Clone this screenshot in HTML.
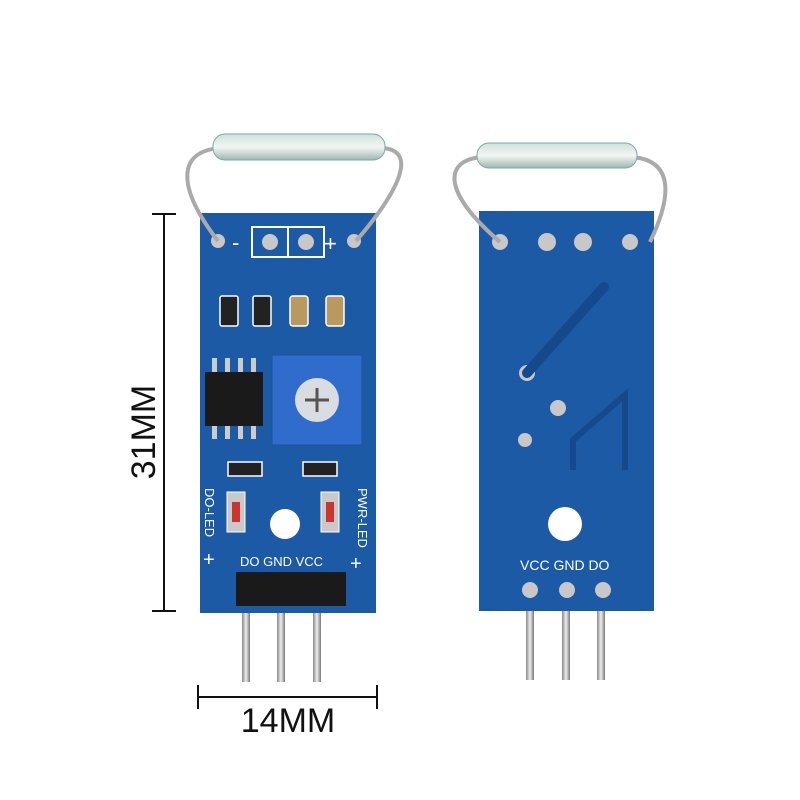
<!DOCTYPE html>
<html><head><style>body{margin:0;background:#fff}svg{display:block}</style></head><body>
<svg width="800" height="800" viewBox="0 0 800 800" xmlns="http://www.w3.org/2000/svg" font-family="Liberation Sans, sans-serif">
<defs>
<linearGradient id="g" x1="0" y1="0" x2="0" y2="1"><stop offset="0" stop-color="#cfe0da"/><stop offset=".5" stop-color="#f2f6f4"/><stop offset="1" stop-color="#9fb8b0"/></linearGradient>
<linearGradient id="pin" x1="0" x2="1"><stop offset="0" stop-color="#888"/><stop offset=".5" stop-color="#eee"/><stop offset="1" stop-color="#777"/></linearGradient>
</defs>
<g stroke="#111" stroke-width="2">
<line x1="164" y1="214" x2="164" y2="611"/><line x1="152" y1="214" x2="176" y2="214"/><line x1="152" y1="611" x2="176" y2="611"/>
<line x1="198" y1="697" x2="377" y2="697"/><line x1="198" y1="685" x2="198" y2="709"/><line x1="377" y1="685" x2="377" y2="709"/>
</g>
<text x="0" y="0" font-size="34" fill="#111" text-anchor="middle" transform="translate(155,432) rotate(-90)">31MM</text>
<text x="288" y="732" font-size="34" fill="#111" text-anchor="middle">14MM</text>

<rect x="242" y="600" width="8" height="82" fill="url(#pin)"/><rect x="277" y="600" width="8" height="82" fill="url(#pin)"/><rect x="313" y="600" width="8" height="82" fill="url(#pin)"/>
<rect x="526" y="600" width="8" height="80" fill="url(#pin)"/><rect x="562" y="600" width="8" height="80" fill="url(#pin)"/><rect x="597" y="600" width="8" height="80" fill="url(#pin)"/>

<rect x="200" y="213" width="176" height="400" fill="#1d5aa6"/>
<g fill="none" stroke="#fff" stroke-width="2"><rect x="252" y="227" width="36" height="30"/><rect x="288" y="227" width="36" height="30"/></g>
<g fill="#c8c8c8"><circle cx="218" cy="241" r="7"/><circle cx="270" cy="242" r="8"/><circle cx="306" cy="242" r="8"/><circle cx="354" cy="241" r="7"/></g>
<text x="232" y="250" font-size="22" fill="#fff">-</text><text x="324" y="251" font-size="22" fill="#fff">+</text>
<g stroke="#fff" stroke-width="1.5" fill="#222"><rect x="220" y="296" width="18" height="30" rx="2"/><rect x="253" y="296" width="18" height="30" rx="2"/></g>
<g stroke="#fff" stroke-width="1.5" fill="#b89a60"><rect x="290" y="296" width="18" height="30" rx="3"/><rect x="326" y="296" width="18" height="30" rx="3"/></g>
<g fill="#ccc"><rect x="212" y="358" width="5" height="14"/><rect x="225" y="358" width="5" height="14"/><rect x="238" y="358" width="5" height="14"/><rect x="251" y="358" width="5" height="14"/><rect x="212" y="425" width="5" height="14"/><rect x="225" y="425" width="5" height="14"/><rect x="238" y="425" width="5" height="14"/><rect x="251" y="425" width="5" height="14"/></g>
<rect x="205" y="372" width="58" height="54" fill="#1a1a1a"/>
<rect x="272" y="355" width="90" height="90" fill="#2f6ccc" stroke="#1f4f9a"/>
<circle cx="317" cy="400" r="22" fill="#d9dde2"/><path d="M305 400h24M317 388v24" stroke="#555" stroke-width="3"/>
<g stroke="#fff" stroke-width="1.5" fill="#222"><rect x="228" y="462" width="34" height="14"/><rect x="303" y="462" width="34" height="14"/></g>
<rect x="227" y="492" width="18" height="40" fill="#c9c9c9" stroke="#fff"/><rect x="321" y="492" width="18" height="40" fill="#c9c9c9" stroke="#fff"/>
<rect x="232" y="502" width="8" height="20" fill="#c33"/><rect x="326" y="502" width="8" height="20" fill="#c33"/>
<circle cx="285" cy="524" r="15" fill="#fff"/>
<text font-size="13" fill="#fff" transform="translate(205,488) rotate(90)">DO-LED</text>
<text font-size="13" fill="#fff" transform="translate(358,488) rotate(90)">PWR-LED</text>
<text x="203" y="566" font-size="20" fill="#fff">+</text><text x="350" y="570" font-size="20" fill="#fff">+</text>
<text x="240" y="566" font-size="13" fill="#fff">DO GND VCC</text>
<rect x="236" y="572" width="110" height="34" fill="#1a1a1a"/>

<rect x="479" y="211" width="175" height="400" fill="#1d5aa6"/>
<g fill="#c8c8c8"><circle cx="500" cy="242" r="8"/><circle cx="547" cy="242" r="9"/><circle cx="583" cy="242" r="9"/><circle cx="630" cy="242" r="8"/><circle cx="527" cy="373" r="8"/><circle cx="558" cy="408" r="8"/><circle cx="525" cy="440" r="7"/><circle cx="530" cy="590" r="8"/><circle cx="567" cy="590" r="8"/><circle cx="603" cy="590" r="8"/></g>
<path d="M527 373 L604 287" stroke="#16498c" stroke-width="10" stroke-linecap="round"/>
<path d="M573 470 L573 440 L625 395 L625 470" stroke="#16498c" stroke-width="6" fill="none"/>
<circle cx="565" cy="524" r="17" fill="#fff"/>
<text x="520" y="570" font-size="14" fill="#fff">VCC GND DO</text>

<path d="M218 241 C 175 185, 178 150, 222 148 M356 241 C 400 190, 418 150, 382 148" fill="none" stroke="#aaa" stroke-width="4"/>
<rect x="213" y="134" width="172" height="26" rx="12" fill="url(#g)" stroke="#7aa" stroke-width="1"/>
<path d="M500 242 C 440 190, 445 160, 482 157 M650 242 C 675 190, 670 160, 632 157" fill="none" stroke="#aaa" stroke-width="4"/>
<rect x="477" y="143" width="160" height="25" rx="12" fill="url(#g)" stroke="#7aa" stroke-width="1"/>
</svg>
</body></html>
